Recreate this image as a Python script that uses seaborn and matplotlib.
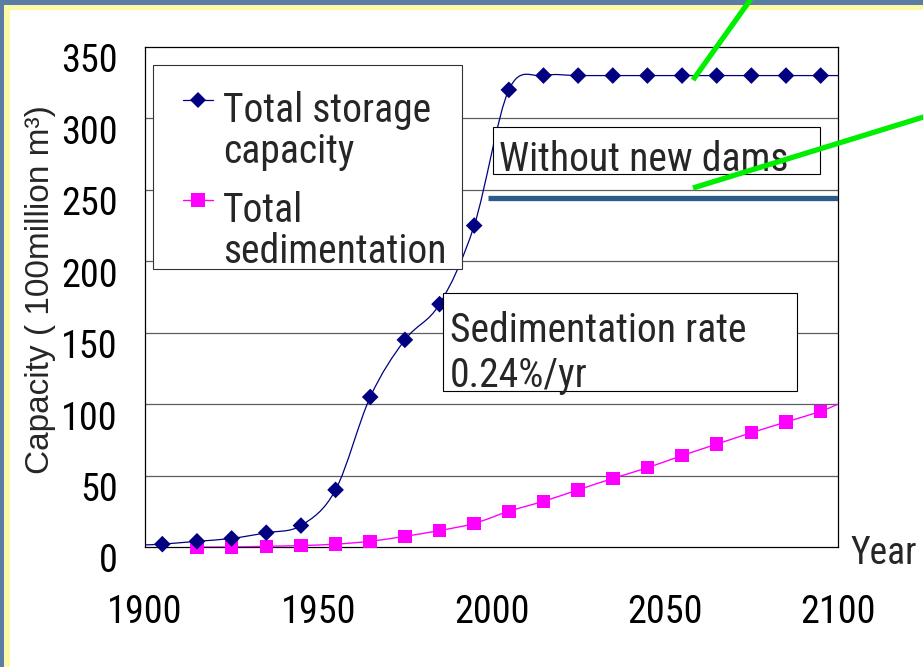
import matplotlib
matplotlib.use("Agg")
import numpy as np
import pandas as pd
import seaborn as sns
import matplotlib.pyplot as plt
from matplotlib import font_manager
from matplotlib.path import Path
from matplotlib.patches import PathPatch, Rectangle
from matplotlib.lines import Line2D
from matplotlib.transforms import ScaledTranslation

# Total reservoir storage capacity and accumulated sedimentation (100 million m^3)
storage_years = [1905, 1915, 1925, 1935, 1945, 1955, 1965, 1975, 1985, 1995,
                 2005, 2015, 2025, 2035, 2045, 2055, 2065, 2075, 2085, 2095]
storage_capacity = [2, 4, 6, 10, 15, 40, 105, 145, 170, 225,
                    320, 330, 330, 330, 330, 330, 330, 330, 330, 330]
sediment_years = [1915, 1925, 1935, 1945, 1955, 1965, 1975, 1985, 1995,
                  2005, 2015, 2025, 2035, 2045, 2055, 2065, 2075, 2085, 2095]
sedimentation = [0, 0, 0.5, 1, 2, 4, 7.5, 11.5, 16.5,
                 25, 32, 40, 48, 55.5, 64, 72, 80, 87.5, 95]
# where the curves meet the ends of the year axis
storage_start = (1900, 1.5)
storage_end = (2100, 330)
sediment_end = (2100, 100)

# capacity level if no further dams are built
no_new_dams_years = [1999, 2100]
no_new_dams_capacity = 244

x_ticks = [1900, 1950, 2000, 2050, 2100]
y_ticks = [0, 50, 100, 150, 200, 250, 300, 350]

NAVY = "#000080"
MAGENTA = "#FF00FF"

sns.set_style("white")
installed = {f.name for f in font_manager.fontManager.ttflist}
narrow = None
for cand in ["Liberation Sans Narrow", "Arial Narrow", "DejaVu Sans Condensed",
             "Roboto Condensed"]:
    if cand in installed:
        narrow = cand
        break
if narrow:
    plt.rcParams["font.family"] = [narrow, "Liberation Sans", "DejaVu Sans"]
    fs_tick, fs_text, fs_year = 27.5, 28.5, 27
else:
    plt.rcParams["font.family"] = ["Liberation Sans", "DejaVu Sans"]
    fs_tick, fs_text, fs_year = 23, 24, 23.5
wide_family = ["Liberation Sans", "DejaVu Sans"]

W, H = 923, 667
fig = plt.figure(figsize=(W / 100, H / 100), dpi=100)
fig.patch.set_facecolor("white")

# slide frame: blue edge and pale yellow rim on top and left
frame = [
    ((0, 1 - 5 / H), 1, 5 / H, "#5B7CA4"),
    ((0, 0), 4 / W, 1, "#5B7CA4"),
    ((4 / W, 0), 6 / W, 1 - 5 / H, "#FBF8A6"),
    ((4 / W, 1 - 10 / H), 1, 5 / H, "#FBF8A6"),
]
for xy, w, h, col in frame:
    fig.patches.append(Rectangle(xy, w, h, transform=fig.transFigure,
                                 facecolor=col, edgecolor="none", zorder=0))

ax = fig.add_axes([145 / W, 120 / H, 693 / W, 500 / H])
ax.set_xlim(x_ticks[0], x_ticks[-1])
ax.set_ylim(y_ticks[0], y_ticks[-1])


def smooth_path(xs, ys):
    """Bezier path through the points, in the style of a smoothed line chart."""
    pts = np.column_stack([xs, ys]).astype(float)
    n = len(pts)
    verts = [pts[0]]
    codes = [Path.MOVETO]
    for i in range(n - 1):
        p0 = pts[i - 1] if i > 0 else pts[i]
        p1, p2 = pts[i], pts[i + 1]
        p3 = pts[i + 2] if i + 2 < n else pts[i + 1]
        verts += [p1 + (p2 - p0) / 6, p2 - (p3 - p1) / 6, p2]
        codes += [Path.CURVE4] * 3
    return Path(verts, codes)


storage_df = pd.DataFrame({"year": storage_years, "capacity": storage_capacity})
sediment_df = pd.DataFrame({"year": sediment_years, "sediment": sedimentation})

# smoothed connecting curves
sx = [storage_start[0]] + storage_years + [storage_end[0]]
sy = [storage_start[1]] + storage_capacity + [storage_end[1]]
ax.add_patch(PathPatch(smooth_path(sx, sy), facecolor="none", edgecolor=NAVY,
                       lw=0.9, zorder=3))
dx = sediment_years + [sediment_end[0]]
dy = sedimentation + [sediment_end[1]]
ax.add_patch(PathPatch(smooth_path(dx, dy), facecolor="none", edgecolor=MAGENTA,
                       lw=1.0, zorder=3))

# markers
sns.scatterplot(data=sediment_df, x="year", y="sediment", marker="s", s=95,
                color=MAGENTA, edgecolor="none", ax=ax, zorder=4, legend=False,
                clip_on=False)
sns.scatterplot(data=storage_df, x="year", y="capacity", marker="D", s=72,
                color=NAVY, edgecolor="none", ax=ax, zorder=4, legend=False,
                clip_on=False)

# level without new dams
ax.plot(no_new_dams_years, [no_new_dams_capacity] * 2, color="#2E5A8A",
        lw=3.8, solid_capstyle="butt", zorder=4)

# grid, spines, ticks
ax.set_yticks(y_ticks)
ax.set_xticks(x_ticks)
ax.set_xticklabels([str(v) for v in x_ticks])
ax.set_yticklabels([str(v) for v in y_ticks])
for v in y_ticks[1:-1]:
    ax.axhline(v, color="#5E5E5E", lw=0.9, zorder=1)
for s in ax.spines.values():
    s.set_visible(True)
    s.set_color("black")
    s.set_linewidth(0.9)
ax.tick_params(axis="both", direction="in", length=8.6, width=0.9,
               color="#8A8A8A", labelsize=fs_tick, labelcolor="black")
ax.tick_params(axis="y", pad=19.4)
ax.tick_params(axis="x", pad=34)
ax.set_xlabel("")
ax.set_ylabel("")
for lab in ax.get_yticklabels():
    lab.set_transform(lab.get_transform()
                      + ScaledTranslation(0, -11 / 100, fig.dpi_scale_trans))

# legend panel
ax.add_patch(Rectangle((0.0115, 0.556), 0.4455, 0.408, transform=ax.transAxes,
                       facecolor="white", edgecolor="#333333", lw=0.8, zorder=5))
legend_items = [
    (0.894, "D", 8.5, NAVY, 0.9, [(0.85, "Total storage"), (0.768, "capacity")]),
    (0.694, "s", 9.7, MAGENTA, 1.0, [(0.65, "Total"), (0.568, "sedimentation")]),
]
for ly, mk, ms, col, lw, lines in legend_items:
    ax.add_line(Line2D([0.0548, 0.0982], [ly, ly], transform=ax.transAxes,
                       color=col, lw=lw, zorder=6))
    ax.add_line(Line2D([0.0765], [ly], transform=ax.transAxes, marker=mk,
                       markersize=ms, color=col, markeredgewidth=0,
                       linestyle="none", zorder=6))
    for by, txt in lines:
        ax.text(0.1126, by, txt, transform=ax.transAxes, fontsize=fs_text,
                va="baseline", ha="left", zorder=6)

# annotation boxes
ax.add_patch(Rectangle((0.502, 0.746), 0.472, 0.094, transform=ax.transAxes,
                       facecolor="white", edgecolor="black", lw=0.8, zorder=5))
ax.text(0.511, 0.752, "Without new dams", transform=ax.transAxes,
        fontsize=fs_text, va="baseline", ha="left", zorder=6)

ax.add_patch(Rectangle((0.430, 0.312), 0.511, 0.196, transform=ax.transAxes,
                       facecolor="white", edgecolor="black", lw=0.8, zorder=5))
ax.text(0.440, 0.41, "Sedimentation rate", transform=ax.transAxes,
        fontsize=fs_text, va="baseline", ha="left", zorder=6)
ax.text(0.440, 0.32, "0.24%/yr", transform=ax.transAxes, fontsize=fs_text,
        va="baseline", ha="left", zorder=6)

# axis titles
fig.text(850 / W, 1 - 553 / H, "Year", fontsize=fs_year, ha="left", va="center")
fig.text(41 / W, 1 - 290 / H, "Capacity ( 100million m\u00b3)", fontsize=24,
         family=wide_family, rotation=90, ha="center", va="center")

# green pointer lines
for (x0, y0), (x1, y1) in [((693, 80), (753, -4)), ((693, 188), (930, 115))]:
    fig.add_artist(Line2D([x0 / W, x1 / W], [1 - y0 / H, 1 - y1 / H],
                          transform=fig.transFigure, color="#00EE00", lw=3.8,
                          solid_capstyle="butt", zorder=10))

fig.savefig("out.png", dpi=100)
